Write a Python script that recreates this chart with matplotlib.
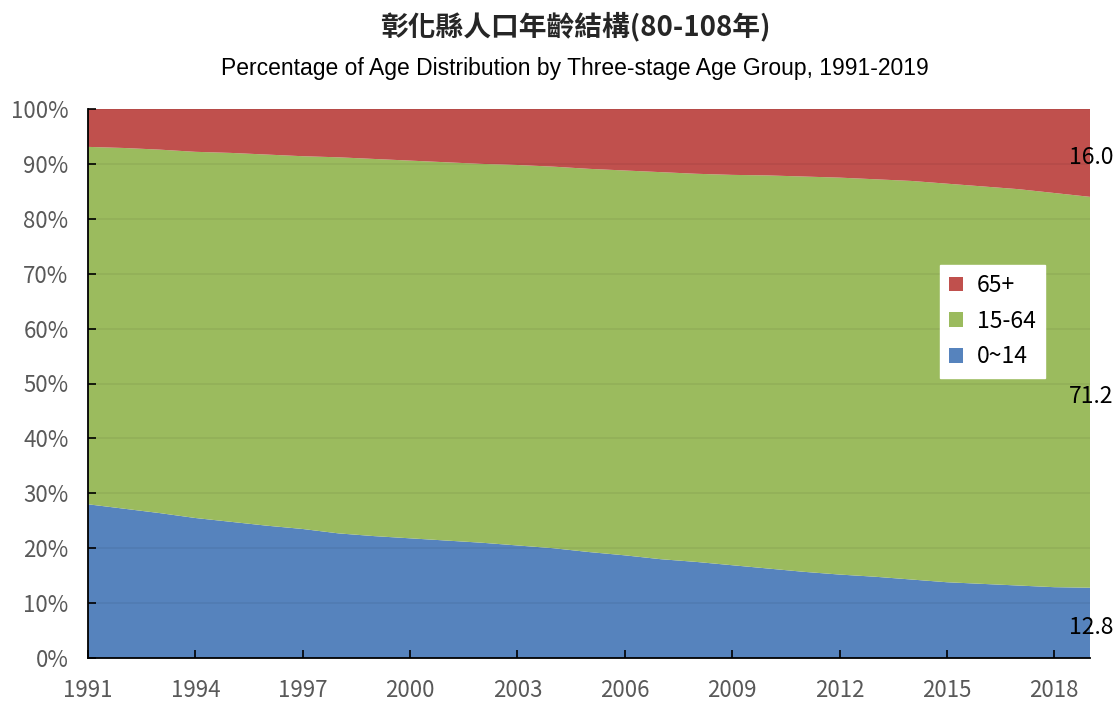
import matplotlib
matplotlib.use("Agg")
import matplotlib.pyplot as plt
from matplotlib.patches import Patch
import numpy as np

plt.rcParams['font.family'] = ['Noto Sans CJK TC', 'DejaVu Sans']

years = list(range(1991, 2020))
age_0_14 = [28.0, 27.2, 26.4, 25.5, 24.8, 24.1, 23.5, 22.7, 22.2, 21.8, 21.4, 21.0,
            20.5, 20.0, 19.3, 18.7, 18.0, 17.5, 16.9, 16.3, 15.7, 15.2, 14.8, 14.3,
            13.8, 13.5, 13.2, 12.9, 12.8]
age_65_plus = [6.9, 7.1, 7.4, 7.8, 8.0, 8.3, 8.6, 8.8, 9.1, 9.4, 9.7, 10.0, 10.2, 10.5,
               10.9, 11.2, 11.5, 11.8, 12.0, 12.1, 12.3, 12.5, 12.8, 13.1, 13.6, 14.1,
               14.6, 15.3, 16.0]
age_15_64 = [round(100 - a - b, 1) for a, b in zip(age_0_14, age_65_plus)]
series_labels = ['0~14', '15-64', '65+']
x_ticks = list(range(1991, 2019, 3))
y_ticks = list(range(0, 101, 10))

title = '彰化縣人口年齡結構(80-108年)'
subtitle = 'Percentage of Age Distribution by Three-stage Age Group, 1991-2019'

colors = ['#5683BD', '#9BBB5E', '#C0504D']

fig = plt.figure(figsize=(11.17, 7.01), dpi=100)
ax = fig.add_axes([88/1117, 1 - 658/701, (1090-88)/1117, (658-109)/701])

ax.stackplot(years, age_0_14, age_15_64, age_65_plus, colors=colors, linewidth=0)
ax.set_xlim(1991, 2019)
ax.set_ylim(0, 100)
ax.set_yticks(y_ticks)
ax.set_yticklabels([f'{v}%' for v in y_ticks])
ax.set_xticks(x_ticks)
ax.set_xticklabels([str(v) for v in x_ticks])
for v in y_ticks[1:]:
    ax.axhline(v, color='#000000', alpha=0.06, lw=1.2, zorder=3)
ax.tick_params(axis='both', direction='in', length=6, width=1.2, colors='black',
               labelcolor='#595959', labelsize=16)
ax.tick_params(axis='x', pad=15)
ax.tick_params(axis='y', pad=14)
for s in ['top', 'right']:
    ax.spines[s].set_visible(False)
for s in ['left', 'bottom']:
    ax.spines[s].set_linewidth(1.3)
    ax.spines[s].set_zorder(4)

# end labels
last = len(years) - 1
c0 = age_0_14[last] / 2
c1 = age_0_14[last] + age_15_64[last] / 2
c2 = age_0_14[last] + age_15_64[last] + age_65_plus[last] / 2
for val, yc in [(age_0_14[last], c0), (age_15_64[last], c1), (age_65_plus[last], c2)]:
    ax.annotate(f'{val:.1f}', (years[last], yc), xytext=(1, -3), textcoords='offset points',
                ha='center', va='center', fontsize=16.5, color='black',
                annotation_clip=False, zorder=5)

handles = [Patch(facecolor=colors[2]), Patch(facecolor=colors[1]), Patch(facecolor=colors[0])]
leg = ax.legend(handles, ['65+', '15-64', '0~14'], loc='upper left',
                bbox_to_anchor=((940-88)/(1090-88), (658-265)/(658-109)),
                frameon=True, fancybox=False, framealpha=1, edgecolor='white',
                fontsize=16.5, handlelength=0.6, handleheight=0.6, labelspacing=0.55,
                borderpad=0.4, handletextpad=0.6, borderaxespad=0)
leg.set_zorder(6)

fig.text(575/1117, 1 - 27/701, title, ha='center', va='center', fontsize=20,
         fontweight='bold', color='#262626')
fig.text(575/1117, 1 - 68/701, subtitle, ha='center', va='center', fontsize=16.5,
         color='black', family=['Liberation Sans', 'DejaVu Sans'])

fig.savefig('out.png', dpi=100)
